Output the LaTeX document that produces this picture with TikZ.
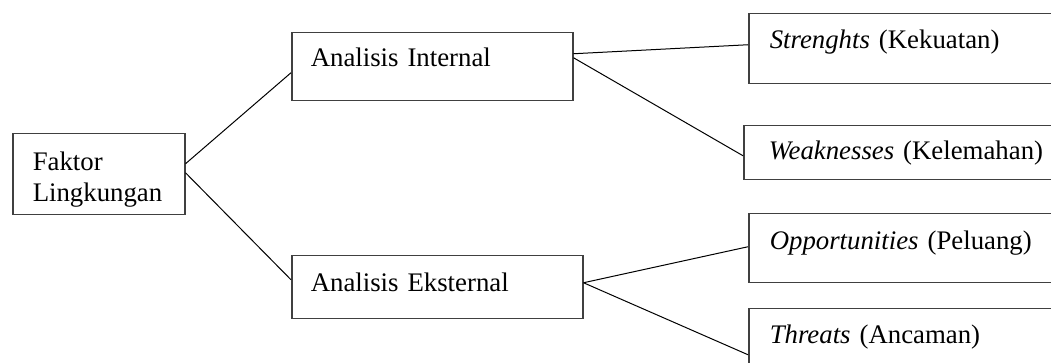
\documentclass[tikz,border=0pt]{standalone}
\usepackage{fontspec}
\setmainfont{Liberation Serif}
\usetikzlibrary{positioning}
\tikzset{
  boxnode/.style={draw=black!75,line width=0.75pt,anchor=north west,
    align=left,inner ysep=0pt,inner xsep=10.5pt,
    font=\fontsize{13.4}{15.5}\selectfont},
  link/.style={draw=black,line width=0.5pt}
}

\begin{document}
\begin{tikzpicture}[x=0.5pt,y=-0.5pt]
  \useasboundingbox (0,0) rectangle (1051,363);
  \clip (0,0) rectangle (1051,363);
  % left column
  \node[boxnode,inner xsep=10pt,text width=66pt,text height=18.5pt,
    text depth=22pt] (faktor) at (12,133) {Faktor\\Lingkungan};
  % middle column
  \node[boxnode,inner xsep=9.5pt,text width=121.5pt,text height=17pt,
    text depth=17pt] (internal) at (291,32) {Analisis Internal};
  \node[boxnode,inner xsep=9.5pt,text width=126.5pt,text height=18pt,
    text depth=13.5pt] (eksternal) at (291,255) {Analisis Eksternal};
  % right column (cut at the page edge)
  \node[boxnode,text width=170pt,text height=17.5pt,text depth=17.5pt]
    (strength) at (748,13) {\textit{Strenghts} (Kekuatan)};
  \node[boxnode,inner xsep=12.5pt,text width=170pt,text height=17pt,
    text depth=10pt] (weakness) at (743,125) {\textit{Weaknesses} (Kelemahan)};
  \node[boxnode,text width=170pt,text height=18pt,text depth=16.5pt]
    (opportunity) at (748,213) {\textit{Opportunities} (Peluang)};
  \node[boxnode,text width=170pt,text height=17.5pt,text depth=17.5pt]
    (threat) at (748,308) {\textit{Threats} (Ancaman)};
  \draw[link] ([yshift=5.25pt]faktor.east) -- ([yshift=-3pt]internal.west);
  \draw[link] ([yshift=0.75pt]faktor.east) -- ([yshift=3.75pt]eksternal.west);
  \draw[link] ([yshift=6.5pt]internal.east) -- ([yshift=2pt]strength.west);
  \draw[link] ([yshift=4.5pt]internal.east) -- ([yshift=-1.5pt]weakness.west);
  \draw[link] ([yshift=2.25pt]eksternal.east) -- ([yshift=0.75pt]opportunity.west);
  \draw[link] ([yshift=2.25pt]eksternal.east) -- ([yshift=-5.5pt]threat.west);
\end{tikzpicture}
\end{document}
